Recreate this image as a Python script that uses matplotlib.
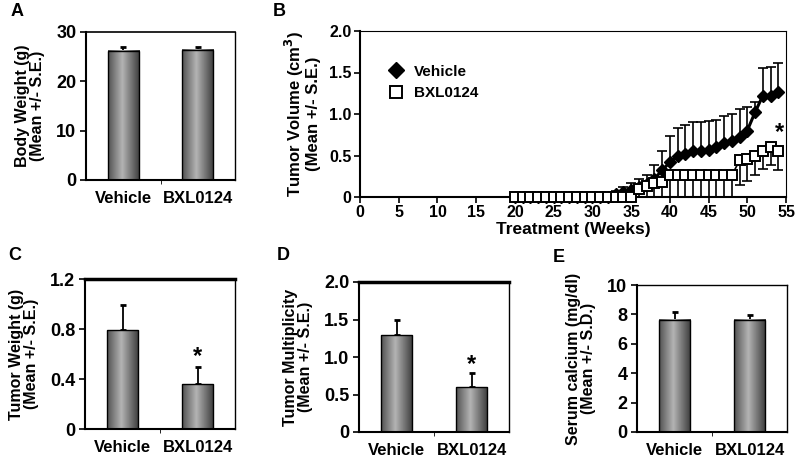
import numpy as np
import matplotlib
matplotlib.use('Agg')
from matplotlib import pyplot as plt
from matplotlib.colors import LinearSegmentedColormap

plt.rcParams['font.family'] = ['Liberation Sans', 'DejaVu Sans']
plt.rcParams['font.weight'] = 'bold'

groups = ['Vehicle', 'BXL0124']

# A: body weight
body_wt = [26.2, 26.4]
body_wt_err = [0.8, 0.6]
# C: tumor weight
tumor_wt = [0.79, 0.36]
tumor_wt_err = [0.2, 0.14]
# D: tumor multiplicity
tumor_mult = [1.29, 0.6]
tumor_mult_err = [0.2, 0.19]
# E: serum calcium
calcium = [7.65, 7.65]
calcium_err = [0.5, 0.3]

# B: tumor volume over time
weeks = list(range(20, 55))
veh_vol = [0, 0, 0, 0, 0, 0, 0, 0, 0, 0, 0, 0, 0, 0.04, 0.06, 0.08,
           0.12, 0.16, 0.22, 0.32, 0.42, 0.5, 0.52, 0.56, 0.55, 0.57, 0.6,
           0.65, 0.68, 0.72, 0.8, 1.02, 1.22, 1.22, 1.27]
veh_err = [0, 0, 0, 0, 0, 0, 0, 0, 0, 0, 0, 0, 0, 0.03, 0.06, 0.09,
           0.1, 0.11, 0.17, 0.23, 0.32, 0.33, 0.35, 0.34, 0.35, 0.35, 0.33,
           0.32, 0.32, 0.34, 0.28, 0.13, 0.34, 0.35, 0.35]
bxl_vol = [0, 0, 0, 0, 0, 0, 0, 0, 0, 0, 0, 0, 0, 0, 0, 0,
           0.1, 0.13, 0.17, 0.18, 0.27, 0.26, 0.26, 0.26, 0.26, 0.26, 0.26,
           0.26, 0.26, 0.44, 0.46, 0.5, 0.55, 0.6, 0.55]
bxl_err = [0, 0, 0, 0, 0, 0, 0, 0, 0, 0, 0, 0, 0, 0, 0, 0,
           0.1, 0.13, 0.17, 0.18, 0.27, 0.26, 0.26, 0.26, 0.26, 0.26, 0.26,
           0.26, 0.26, 0.29, 0.27, 0.23, 0.21, 0.22, 0.23]

cmap = LinearSegmentedColormap.from_list('bar', ['#3c3c3c', '#b4b4b4'])
t = np.linspace(0, 1, 64)
grad = 1 - np.abs(t - 0.45) / 0.55
grad = np.clip(grad, 0, 1)[None, :]

fig = plt.figure(figsize=(8, 4.58), dpi=100)
W, H = 800, 458


def add_ax(l, r, top, bot):
    return fig.add_axes([l / W, 1 - bot / H, (r - l) / W, (bot - top) / H])


def bar_panel(ax, vals, errs, ymax, ticks, ticklabels, ylabel, star=None, topw=1.0):
    x = np.arange(len(vals))
    bw = 0.42
    for xi, v in zip(x, vals):
        ax.imshow(grad, extent=[xi - bw / 2, xi + bw / 2, 0, v], aspect='auto',
                  cmap=cmap, vmin=0, vmax=1, zorder=2, interpolation='bilinear')
    ax.bar(x, vals, width=bw, facecolor='none', edgecolor='black', lw=1.0, zorder=3)
    ax.errorbar(x, vals, yerr=[np.zeros(len(errs)), errs], fmt='none',
                ecolor='black', elinewidth=1.3, capsize=2.5, capthick=2, zorder=1)
    ax.set_xlim(-0.5, 1.5)
    ax.set_ylim(0, ymax)
    ax.set_yticks(ticks)
    ax.set_yticklabels(ticklabels, fontsize=13, fontweight='bold')
    ax.set_xticks([0.5], minor=True)
    ax.set_xticks(x)
    ax.set_xticklabels(groups, fontsize=12, fontweight='bold')
    ax.tick_params(axis='x', which='major', length=0, pad=8)
    ax.tick_params(axis='x', which='minor', length=3, direction='out')
    ax.tick_params(axis='y', length=4, width=1.2, pad=3)
    for s in ['left', 'bottom']:
        ax.spines[s].set_linewidth(1.5)
    ax.spines['right'].set_linewidth(1.0)
    ax.spines['top'].set_linewidth(topw)
    ax.set_ylabel(ylabel, fontsize=11.5, fontweight='bold', linespacing=1.0, labelpad=8)
    if star is not None:
        ax.text(1, star, '*', ha='center', va='center', fontsize=17, fontweight='bold')


axA = add_ax(86, 235, 32, 180)
bar_panel(axA, body_wt, body_wt_err, 30, [0, 10, 20, 30], ['0', '10', '20', '30'],
          'Body Weight (g)\n(Mean +/- S.E.)', topw=1.2)
fig.text(11 / W, 1 - 12 / H, 'A', fontsize=13, fontweight='bold', va='center')

axC = add_ax(85, 235, 279, 429)
bar_panel(axC, tumor_wt, tumor_wt_err, 1.2, [0, 0.4, 0.8, 1.2], ['0', '0.4', '0.8', '1.2'],
          'Tumor Weight (g)\n(Mean +/- S.E.)', star=0.58, topw=2.5)
fig.text(8 / W, 1 - 255 / H, 'C', fontsize=13, fontweight='bold', va='center')

axD = add_ax(359, 509, 282, 432)
bar_panel(axD, tumor_mult, tumor_mult_err, 2.0, [0, 0.5, 1.0, 1.5, 2.0],
          ['0', '0.5', '1.0', '1.5', '2.0'],
          'Tumor Multiplicity\n(Mean +/- S.E.)', star=0.9, topw=2.5)
fig.text(277 / W, 1 - 255 / H, 'D', fontsize=13, fontweight='bold', va='center')

axE = add_ax(637, 787, 285, 432)
bar_panel(axE, calcium, calcium_err, 10, [0, 2, 4, 6, 8, 10],
          ['0', '2', '4', '6', '8', '10'],
          'Serum calcium (mg/dl)\n(Mean +/- S.D.)', topw=1.0)
fig.text(553 / W, 1 - 258 / H, 'E', fontsize=13, fontweight='bold', va='center')

# B: time course
axB = add_ax(360, 786, 31, 197)
axB.errorbar(weeks, veh_vol, yerr=[np.zeros(len(veh_err)), veh_err], fmt='none',
             ecolor='black', elinewidth=1.2, capsize=3.5, capthick=1.2, zorder=1)
axB.errorbar(weeks, bxl_vol, yerr=[bxl_err, np.zeros(len(bxl_err))], fmt='none',
             ecolor='black', elinewidth=1.2, capsize=3.5, capthick=1.2, zorder=1)
axB.plot(weeks, veh_vol, color='black', lw=2.2, marker='D', markersize=6.3,
         label='Vehicle', zorder=3, clip_on=False)
axB.plot(weeks, bxl_vol, color='black', lw=1.2, marker='s', markersize=7,
         markerfacecolor='white', markeredgecolor='black', markeredgewidth=1.4,
         label='BXL0124', zorder=4, clip_on=False)
axB.text(54.1, 0.78, '*', ha='center', va='center', fontsize=17, fontweight='bold')
axB.set_xlim(0, 55)
axB.set_ylim(0, 2.0)
axB.set_xticks(range(0, 56, 5))
axB.set_xticklabels([str(v) for v in range(0, 56, 5)], fontsize=11.5, fontweight='bold')
axB.set_yticks([0, 0.5, 1.0, 1.5, 2.0])
axB.set_yticklabels(['0', '0.5', '1.0', '1.5', '2.0'], fontsize=11.5, fontweight='bold')
axB.tick_params(length=4, width=1.2, pad=2)
for s in ['left', 'bottom']:
    axB.spines[s].set_linewidth(1.5)
axB.set_xlabel('Treatment (Weeks)', fontsize=12.5, fontweight='bold', labelpad=1)
axB.set_ylabel('Tumor Volume (cm$^\\mathbf{3}$)\n(Mean +/- S.E.)', fontsize=12,
               fontweight='bold', linespacing=1.0, labelpad=6)
leg = axB.legend(loc='upper left', bbox_to_anchor=(0.03, 0.88), frameon=False,
                 prop={'weight': 'bold', 'size': 11}, handlelength=1.2,
                 handletextpad=0.6, labelspacing=0.5, markerscale=1.3)
for h in leg.legend_handles:
    h.set_linestyle('none')
fig.text(273 / W, 1 - 12 / H, 'B', fontsize=13, fontweight='bold', va='center')

fig.savefig('out.png', dpi=100)
